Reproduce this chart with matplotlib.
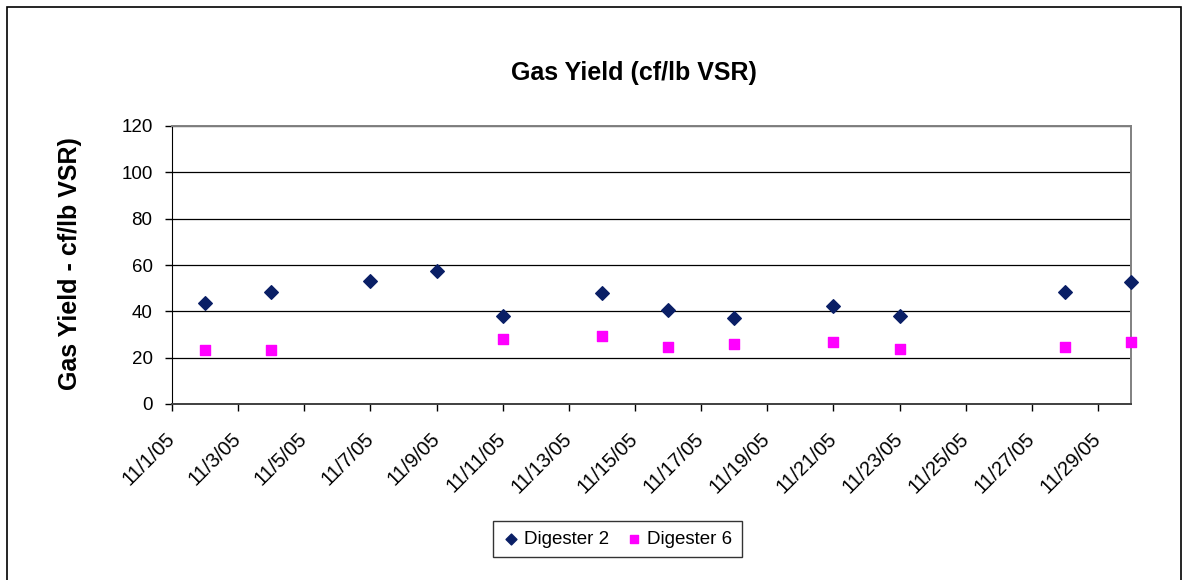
import datetime as dt
import matplotlib
matplotlib.use("Agg")
import matplotlib.pyplot as plt
import matplotlib.dates as mdates
from matplotlib.patches import Rectangle

plt.rcParams['font.family'] = ['Liberation Sans', 'DejaVu Sans']

# Digester 2 readings (cf/lb VSR)
d2_days = [2, 4, 7, 9, 11, 14, 16, 18, 21, 23, 28, 30]
d2_yield = [43.6, 48.4, 53.3, 57.5, 38.0, 47.8, 40.6, 37.3, 42.2, 38.0, 48.4, 52.6]

# Digester 6 readings (cf/lb VSR)
d6_days = [2, 4, 11, 14, 16, 18, 21, 23, 28, 30]
d6_yield = [23.2, 23.2, 28.1, 29.4, 24.6, 25.9, 26.7, 23.9, 24.6, 26.7]

y_ticks = [0, 20, 40, 60, 80, 100, 120]

d2_dates = [dt.date(2005, 11, d) for d in d2_days]
d6_dates = [dt.date(2005, 11, d) for d in d6_days]
tick_dates = [dt.date(2005, 11, d) for d in range(1, 30, 2)]

fig = plt.figure(figsize=(11.83, 5.8), dpi=100)
ax = fig.add_axes([172/1183, 1 - 404/580, (1131 - 172)/1183, (404 - 126)/580])

# outer chart border
fig.patches.append(Rectangle((7/1183, -0.05), (1181 - 7)/1183, 1.05 - 7/580,
                             transform=fig.transFigure, fill=False,
                             edgecolor='black', linewidth=1.2))

ax.scatter(d2_dates, d2_yield, marker='D', s=48, color='#0a1f66',
           edgecolors='#0a1f66', label='Digester 2', zorder=3, clip_on=False)
ax.scatter(d6_dates, d6_yield, marker='s', s=42, color='#ff00ff',
           edgecolors='#ff00ff', label='Digester 6', zorder=3, clip_on=False)

ax.set_xlim(dt.date(2005, 11, 1), dt.date(2005, 11, 30))
ax.set_ylim(0, 120)
ax.set_yticks(y_ticks)
ax.set_xticks(tick_dates)
ax.xaxis.set_major_formatter(plt.FuncFormatter(
    lambda v, p: (lambda d: f"{d.month}/{d.day}/{d.strftime('%y')}")(mdates.num2date(v))))

ax.grid(axis='y', color='black', linewidth=0.9)
ax.set_axisbelow(True)
for s in ['top', 'right']:
    ax.spines[s].set_color('#808080')
    ax.spines[s].set_linewidth(1.4)
ax.spines['left'].set_color('black')
ax.spines['bottom'].set_color('#404040')
ax.spines['bottom'].set_linewidth(1.4)

ax.tick_params(axis='both', direction='out', length=5, width=1, labelsize=13.5, colors='black')
ax.tick_params(axis='y', pad=9)
ax.tick_params(axis='x', pad=18, labelsize=14.5)
plt.setp(ax.get_xticklabels(), rotation=45, ha='right', va='center', rotation_mode='anchor')

fig.text(634/1183, 1 - 73/580, 'Gas Yield (cf/lb VSR)', ha='center', va='center',
         fontsize=18, fontweight='bold')
fig.text(70/1183, 1 - 264/580, 'Gas Yield - cf/lb VSR)', ha='center', va='center',
         rotation=90, fontsize=18, fontweight='bold')

leg = fig.legend(loc='center', bbox_to_anchor=(617/1183, 1 - 539/580), ncol=2,
                 fontsize=13.5, frameon=True, fancybox=False, edgecolor='black',
                 handletextpad=0.2, columnspacing=0.8, borderpad=0.5,
                 handlelength=1.0, markerscale=0.8)
leg.get_frame().set_linewidth(1)

fig.savefig('out.png', dpi=100)
